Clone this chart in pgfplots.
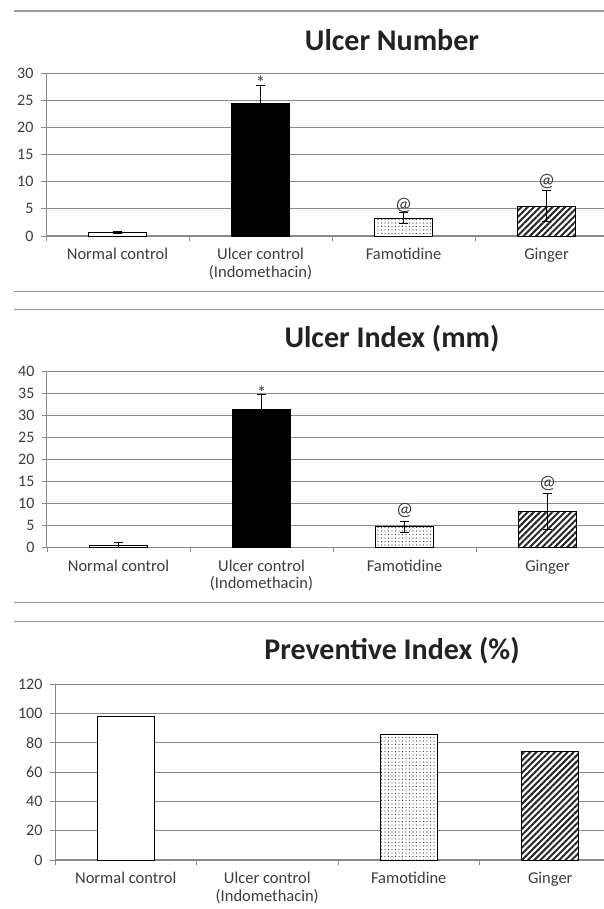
\documentclass[border=0pt]{standalone}
\usepackage{fontspec}
\setmainfont{Carlito}
\usepackage{pgfplots}
\pgfplotsset{compat=1.18}
\usetikzlibrary{patterns,patterns.meta}

\definecolor{gridgray}{HTML}{8A8A8A}
\definecolor{sepgray}{HTML}{9A9A9A}
\definecolor{txt}{HTML}{3C3C3C}
\definecolor{titlecol}{HTML}{222222}

\pgfplotsset{
  panel/.style={
    anchor=south west, scale only axis, clip=false,
    xmin=-0.5, ymin=0,
    axis x line*=bottom, axis y line*=left,
    axis line style={gridgray, line width=1pt},
    ymajorgrids, grid style={gridgray, line width=0.9pt},
    tick align=outside, major tick length=5pt,
    tick style={gridgray, line width=0.9pt},
    xtick={-0.5,0.5,1.5,2.5}, xticklabels={},
    extra x ticks={0,1,2,3},
    extra x tick labels={Normal control,{Ulcer control\\(Indomethacin)},Famotidine,Ginger},
    extra x tick style={major tick length=0pt, grid=none},
    xticklabel style={align=center, font=\fontsize{16.5}{17.5}\selectfont, text=txt, yshift=-9pt},
    yticklabel style={font=\fontsize{16}{18}\selectfont, text=txt, xshift=-4pt},
    /pgf/number format/assume math mode=true,
  },
  bars/.style={ybar, bar width=0.4, bar shift=0pt, draw=black, line width=0.9pt, mark=none,
    error bars/y dir=both, error bars/y explicit,
    error bars/error bar style={black, line width=0.9pt, solid},
    error bars/error mark options={rotate=90, black, mark size=4.5pt, line width=0.9pt}},
  plainbar/.style={bars, fill=white},
  solidbar/.style={bars, fill=black},
  dottedbar/.style={bars, fill=white, postaction={pattern={Dots[distance=3.5pt, radius=0.6pt]}, pattern color=black!75}},
  hatchedbar/.style={bars, fill=white, postaction={pattern={Lines[angle=45, distance=4.4pt, line width=2pt]}, pattern color=black!85}},
}
\newcommand{\annot}{\fontsize{19}{21}\selectfont\color{txt}}
\newcommand{\ttl}{\bfseries\fontsize{30}{34}\selectfont}

\begin{document}
\begin{tikzpicture}
\path[use as bounding box] (0,0) rectangle (604pt,909pt);
\foreach \yy in {898,617.3,599.7,306.3,287.3}
  {\draw[sepgray, line width=1.3pt] (13.5pt,\yy pt) -- (604pt,\yy pt);}

% ---------- Panel 1 ----------
\node[font=\ttl, text=titlecol] at (392pt,869pt) {Ulcer Number};
\begin{axis}[panel, at={(46pt,673pt)}, width=558pt, height=162.7pt,
  xmax=3.402, ymax=30, ytick={0,5,...,30}]
\addplot[plainbar]   coordinates {(0,0.6)  +- (0,0.2)};
\addplot[solidbar]   coordinates {(1,24.4) +- (0,3.3)};
\addplot[dottedbar]  coordinates {(2,3.3)  +- (0,1.0)};
\addplot[hatchedbar] coordinates {(3,5.5)  +- (0,2.9)};
\node[font=\annot] at (axis cs:1,28.3) {*};
\node[font=\annot] at (axis cs:2,5.7) {@};
\node[font=\annot] at (axis cs:3,10.0) {@};
\end{axis}

% ---------- Panel 2 ----------
\node[font=\ttl, text=titlecol] at (392pt,570pt) {Ulcer Index (mm)};
\begin{axis}[panel, at={(47pt,361.7pt)}, width=557pt, height=175.6pt,
  xmax=3.395, ymax=40, ytick={0,5,...,40}]
\addplot[plainbar]   coordinates {(0,0.5)  +- (0,0.5)};
\addplot[solidbar]   coordinates {(1,31.4) +- (0,3.4)};
\addplot[dottedbar]  coordinates {(2,4.7)  +- (0,1.3)};
\addplot[hatchedbar] coordinates {(3,8.2)  +- (0,4.1)};
\node[font=\annot] at (axis cs:1,35.1) {*};
\node[font=\annot] at (axis cs:2,8.4) {@};
\node[font=\annot] at (axis cs:3,14.6) {@};
\end{axis}

% ---------- Panel 3 ----------
\node[font=\ttl, text=titlecol] at (392pt,258pt) {Preventive Index (\%)};
\begin{axis}[panel, at={(55pt,49pt)}, width=549pt, height=176pt,
  xmax=3.38, ymax=120, ytick={0,20,...,120}]
\addplot[plainbar]   coordinates {(0,97.7)};
\addplot[solidbar, draw=none, fill=none] coordinates {(1,0)};
\addplot[dottedbar]  coordinates {(2,85.7)};
\addplot[hatchedbar] coordinates {(3,74.2)};
\end{axis}
\end{tikzpicture}
\end{document}
